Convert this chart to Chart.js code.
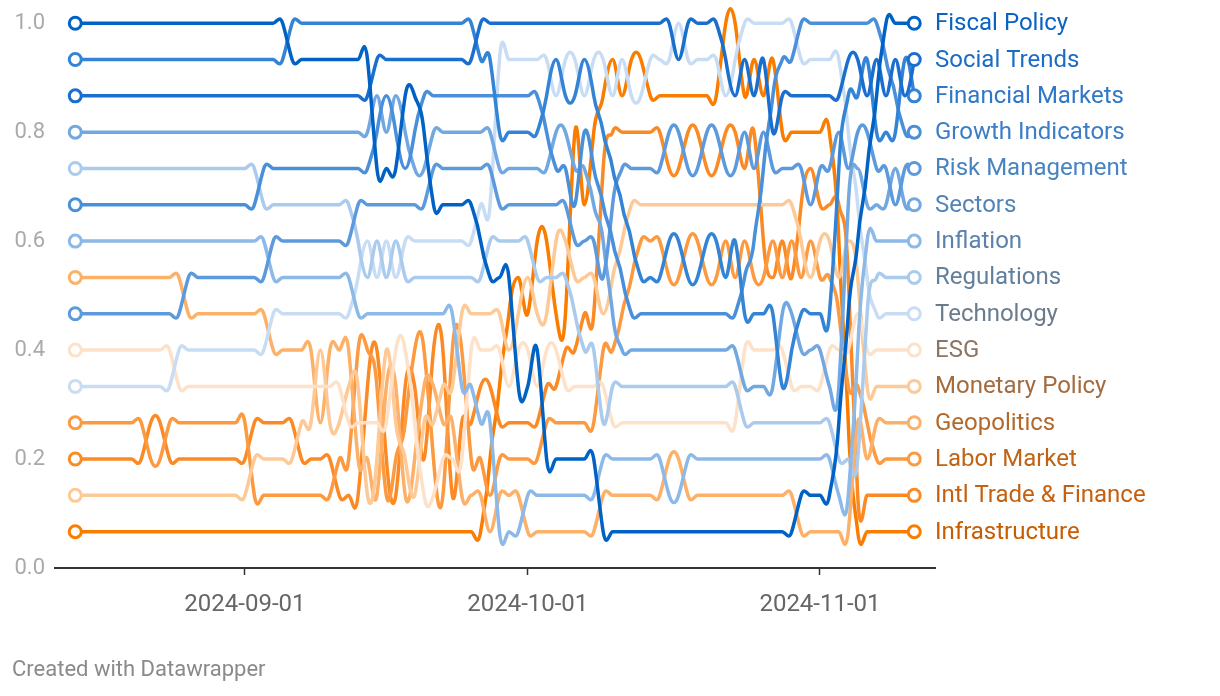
<!DOCTYPE html>
<html>
<head>
<meta charset="utf-8">
<script src="https://cdn.jsdelivr.net/npm/chart.js@4.4.1/dist/chart.umd.min.js"></script>
<style>
  html, body { margin: 0; padding: 0; background: #fff; }
  canvas { display: block; }
</style>
</head>
<body>
<canvas id="bumpChart" width="1220" height="696"></canvas>
<script>
// daily ranks (1 = top), first day 2024-08-14, last day 2024-11-11
const startDate = '2024-08-14';
const tickDates = ['2024-09-01', '2024-10-01', '2024-11-01'];
const yTicks = [0, 0.2, 0.4, 0.6, 0.8, 1.0];

const topics = ['Fiscal Policy', 'Social Trends', 'Financial Markets', 'Growth Indicators',
  'Risk Management', 'Sectors', 'Inflation', 'Regulations', 'Technology', 'ESG',
  'Monetary Policy', 'Geopolitics', 'Labor Market', 'Intl Trade & Finance', 'Infrastructure'];

const fiscalPolicy = [
  1,1,1,1,1,1,1,1,1,1, 1,1,1,1,1,1,1,1,1,1, 1,1,1,2,2,2,2,2,2,2,
  2,2,5,5,5,3,3,4,6,6, 6,6,6,7,8,8,8,11,11,10, 13,13,13,13,13,13,15,15,15,15,
  15,15,15,15,15,15,15,15,15,15, 15,15,15,15,15,15,15,14,14,14, 14,12,9,7,5,3,1,1,1,1];
const socialTrends = [
  3,3,3,3,3,3,3,3,3,3, 3,3,3,3,3,3,3,3,3,3, 3,3,3,3,3,3,3,3,3,3,
  3,3,2,2,2,2,2,2,2,2, 2,2,2,1,1,1,1,1,1,1, 1,1,1,1,1,1,1,1,1,1,
  1,1,1,1,2,1,1,1,1,2, 3,2,3,2,4,3,3,3,3,3, 3,3,2,2,3,2,3,2,3,2];
const financialMarkets = [
  2,2,2,2,2,2,2,2,2,2, 2,2,2,2,2,2,2,2,2,2, 2,2,2,1,1,1,1,1,1,1,
  1,1,1,1,1,1,1,1,1,1, 1,1,1,2,2,4,4,4,4,4, 3,2,3,3,2,3,4,5,6,7,
  8,8,8,7,7,8,8,7,7,8, 7,9,9,9,9,11,10,9,9,9, 9,5,3,3,2,4,4,4,2,3];
const growthIndicators = [
  6,6,6,6,6,6,6,6,6,6, 6,6,6,6,6,6,6,6,6,6, 5,5,5,5,5,5,5,5,5,5,
  5,5,4,3,4,5,4,3,3,3, 3,3,3,3,3,3,3,3,3,3, 4,5,5,6,4,5,6,7,8,9,
  9,9,9,9,9,9,9,9,9,9, 9,8,7,5,3,2,2,1,1,1, 1,1,1,1,1,1,2,3,4,4];
const riskManagement = [
  9,9,9,9,9,9,9,9,9,9, 9,9,8,8,8,8,8,8,8,8, 8,7,7,7,7,7,7,7,7,7,
  6,6,6,6,6,6,6,6,5,5, 5,5,5,5,5,6,6,6,6,6, 6,6,6,7,7,7,8,6,5,5,
  5,5,5,4,4,5,5,4,4,5, 5,4,5,4,5,5,5,5,6,5, 5,4,5,4,4,5,5,6,5,5];
const sectors = [
  4,4,4,4,4,4,4,4,4,4, 4,4,4,4,4,4,4,4,4,4, 4,4,4,4,4,4,4,4,4,4,
  4,4,3,4,3,4,5,5,4,4, 4,4,4,4,4,5,5,5,5,5, 5,4,4,5,5,6,7,9,10,10,
  10,10,10,10,10,10,10,10,10,10, 10,11,11,11,11,9,9,10,10,10, 11,11,6,5,6,6,6,5,6,6];
const inflation = [
  7,7,7,7,7,7,7,7,7,7, 7,7,7,7,7,7,7,7,7,7, 7,8,8,8,8,8,8,8,8,8,
  9,9,9,9,9,9,9,9,9,9, 9,11,11,12,12,15,15,15,14,14, 14,14,14,14,14,14,13,13,13,13,
  13,13,13,14,14,13,13,13,13,13, 13,13,13,13,13,13,13,13,13,13, 13,14,14,10,7,7,7,7,7,7];
const regulations = [
  5,5,5,5,5,5,5,5,5,5, 5,5,5,5,5,5,5,5,5,5, 6,6,6,6,6,6,6,6,6,6,
  7,8,7,8,7,8,8,8,8,8, 8,8,8,8,7,7,7,7,7,8, 8,8,8,9,10,10,12,11,11,11,
  11,11,11,11,11,11,11,11,11,11, 11,12,12,12,12,12,12,12,12,12, 12,13,13,13,9,8,8,8,8,8];
const technology = [
  11,11,11,11,11,11,11,11,11,11, 11,10,10,10,10,10,10,10,10,10, 10,9,9,9,9,9,9,9,9,9,
  8,7,8,7,8,7,7,7,7,7, 7,7,7,6,6,2,2,2,2,2, 2,3,2,2,3,2,2,3,2,3,
  3,2,2,2,1,2,2,2,2,3, 2,1,1,1,1,1,1,2,2,2, 2,2,4,6,8,9,9,9,9,9];
const esg = [
  10,10,10,10,10,10,10,10,10,10, 10,11,11,11,11,11,11,11,11,11, 11,11,11,11,11,11,11,11,11,12,
  12,12,12,12,10,10,12,14,14,13, 13,13,10,10,10,10,11,10,10,11, 10,10,11,11,11,11,11,12,12,12,
  12,12,12,12,12,12,12,12,12,12, 12,10,10,10,10,10,11,11,11,11, 10,10,10,9,10,10,10,10,10,10];
const monetaryPolicy = [
  14,14,14,14,14,14,14,14,14,14, 14,14,14,14,14,14,14,14,14,13, 13,13,13,13,12,12,10,12,12,11,
  11,14,13,10,12,13,14,12,12,11, 11,9,9,9,9,9,10,9,8,9, 9,7,7,8,8,8,9,8,7,6,
  6,6,6,6,6,6,6,6,6,6, 6,6,6,6,6,6,6,7,8,7, 7,8,7,8,11,11,11,11,11,11];
const geopolitics = [
  8,8,8,8,8,8,8,8,8,8, 8,8,9,9,9,9,9,9,9,9, 9,10,10,10,10,10,12,10,10,10,
  13,13,14,11,11,14,13,11,11,12, 12,14,14,14,15,14,14,14,15,15, 15,15,15,15,15,15,14,14,14,14,
  14,14,14,13,13,14,14,14,14,14, 14,14,14,14,14,14,14,15,15,15, 15,15,15,12,13,12,12,12,12,12];
const laborMarket = [
  12,12,12,12,12,12,12,12,13,13, 12,12,12,12,12,12,12,12,12,14, 14,14,14,14,14,14,14,14,13,13,
  10,10,11,14,13,12,10,10,13,14, 10,10,13,13,14,13,13,13,13,13, 12,12,12,12,12,12,10,10,9,8,
  7,7,7,8,8,7,7,8,8,7, 8,7,8,8,7,8,7,8,7,8, 8,9,11,11,12,13,13,13,13,13];
const intlTrade = [
  13,13,13,13,13,13,13,13,12,12, 13,13,13,13,13,13,13,13,13,12, 12,12,12,12,13,13,13,13,14,14,
  14,11,10,13,14,11,11,13,10,10, 14,12,12,11,11,12,12,12,12,12, 11,11,10,10,9,9,5,4,4,4,
  4,4,4,5,5,4,4,5,5,4, 4,5,4,7,8,7,8,6,5,6, 6,6,8,14,14,14,14,14,14,14];
const infrastructure = [
  15,15,15,15,15,15,15,15,15,15, 15,15,15,15,15,15,15,15,15,15, 15,15,15,15,15,15,15,15,15,15,
  15,15,15,15,15,15,15,15,15,15, 15,15,15,15,13,11,9,8,9,7, 7,9,9,4,6,4,3,2,3,2,
  2,3,3,3,3,3,3,3,3,1, 1,3,2,3,2,4,4,4,4,4, 4,7,12,15,15,15,15,15,15,15];

const rankSeries = [fiscalPolicy, socialTrends, financialMarkets, growthIndicators, riskManagement,
  sectors, inflation, regulations, technology, esg, monetaryPolicy, geopolitics, laborMarket,
  intlTrade, infrastructure];

const lineColors = ['#0062c4', '#1a6fce', '#3484d6', '#4a8fd9', '#5c9add', '#72a8e2', '#8db9e8',
  '#aacbee', '#c8ddf4', '#fde1c8', '#fdc996', '#fdb068', '#fd993f', '#fb8a24', '#fa7d00'];
const labelColors = ['#0a62c2', '#1b6cc6', '#2f78c8', '#3b7ec6', '#4883c2', '#5284ba', '#5a82ad',
  '#627f9c', '#6a7c8c', '#8c7562', '#a36b3e', '#b3692a', '#bf6414', '#c4600f', '#c85c00'];

const DAY = 86400000;
const dayIndex = d => Math.round((Date.parse(d) - Date.parse(startDate)) / DAY);
const tickDays = tickDates.map(dayIndex);
const nRanks = topics.length;
const rankToValue = r => (nRanks + 1 - r) / nRanks;

const datasets = topics.map((name, i) => {
  const ranks = rankSeries[i];
  const last = ranks.length - 1;
  return {
    label: name,
    data: ranks.map((r, d) => ({ x: d, y: rankToValue(r) })),
    borderColor: lineColors[i],
    borderWidth: 3.5,
    tension: 0.4,
    clip: false,
    pointRadius: ctx => (ctx.dataIndex === 0 || ctx.dataIndex === last) ? 6 : 0,
    pointHoverRadius: 0,
    pointBackgroundColor: '#fff',
    pointBorderColor: lineColors[i],
    pointBorderWidth: 3
  };
});

// cardinal-style curve: control points at thirds in x, slope from neighbours
// (gives the rounded swaps and small overshoots of the original)
const curveStrength = 1.6;
const cardinalCurves = {
  id: 'cardinalCurves',
  beforeDatasetDraw(chart, args) {
    const meta = args.meta;
    const pts = meta.data;
    for (let i = 0; i < pts.length; i++) {
      const p = pts[i];
      const prev = pts[i - 1] || p;
      const next = pts[i + 1] || p;
      const span = next.x - prev.x || 1;
      const slope = curveStrength * (next.y - prev.y) / span;
      const dxPrev = (p.x - prev.x) / 3;
      const dxNext = (next.x - p.x) / 3;
      p.cp1x = p.x - dxPrev;
      p.cp1y = p.y - slope * dxPrev;
      p.cp2x = p.x + dxNext;
      p.cp2y = p.y + slope * dxNext;
    }
    meta.dataset._pointsUpdated = true;
    meta.dataset._path = undefined;
  }
};

const endLabels = {
  id: 'endLabels',
  afterDatasetsDraw(chart) {
    const { ctx, chartArea, scales } = chart;
    ctx.save();
    ctx.font = '24px Roboto';
    ctx.textBaseline = 'middle';
    ctx.textAlign = 'left';
    chart.data.datasets.forEach((ds, i) => {
      const lastPoint = ds.data[ds.data.length - 1];
      ctx.fillStyle = labelColors[i];
      ctx.fillText(ds.label, chartArea.right, scales.y.getPixelForValue(lastPoint.y) + 1);
    });
    ctx.font = '22px Roboto';
    ctx.fillStyle = '#8a8a8a';
    ctx.fillText('Created with Datawrapper', 12, 670);
    ctx.restore();
  }
};

Chart.defaults.font.family = 'Roboto';

new Chart(document.getElementById('bumpChart').getContext('2d'), {
  type: 'line',
  data: { datasets },
  options: {
    responsive: false,
    animation: false,
    layout: { padding: { left: 12, right: 285, top: 22, bottom: 78 } },
    elements: { line: { capBezierPoints: false } },
    plugins: { legend: { display: false }, tooltip: { enabled: false } },
    scales: {
      x: {
        type: 'linear',
        min: -2.15,
        max: 91.2,
        afterBuildTicks: axis => { axis.ticks = tickDays.map(v => ({ value: v })); },
        afterFit: axis => { axis.height = 50; },
        ticks: {
          callback: v => tickDates[tickDays.indexOf(v)],
          color: '#666',
          font: { size: 24 },
          padding: 16,
          maxRotation: 0,
          autoSkip: false
        },
        grid: { drawOnChartArea: false, tickLength: 7, color: '#333', tickWidth: 1.5 },
        border: { color: '#333', width: 2 }
      },
      y: {
        min: 0,
        max: 1,
        afterBuildTicks: axis => { axis.ticks = yTicks.map(v => ({ value: v })); },
        afterFit: axis => { axis.width = 43; },
        ticks: {
          callback: v => v.toFixed(1),
          color: '#aaa',
          font: { size: 22 },
          padding: 10
        },
        grid: { display: false, drawTicks: false },
        border: { display: false }
      }
    }
  },
  plugins: [cardinalCurves, endLabels]
});
</script>
</body>
</html>
